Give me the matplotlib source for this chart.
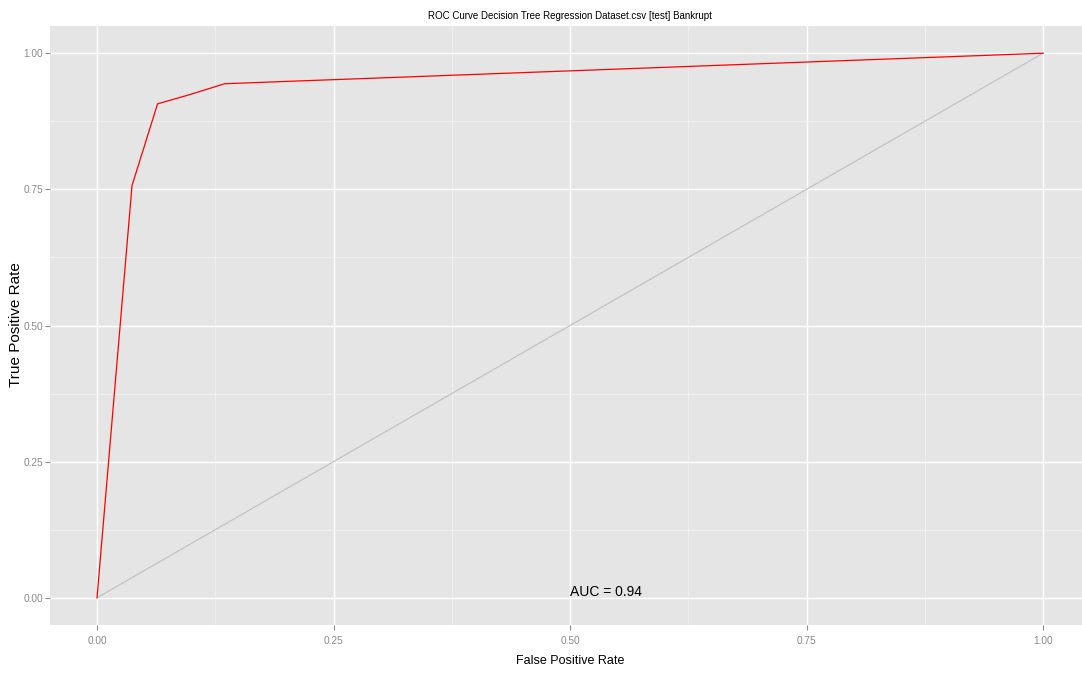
import matplotlib
matplotlib.use('Agg')
import matplotlib.pyplot as plt
from matplotlib.ticker import MultipleLocator

# ROC points
fpr = [0.0, 0.037, 0.064, 0.098, 0.135, 1.0]
tpr = [0.0, 0.757, 0.907, 0.924, 0.944, 1.0]
diag = [0.0, 1.0]
ticks = [0.0, 0.25, 0.5, 0.75, 1.0]
tick_labels = ['0.00', '0.25', '0.50', '0.75', '1.00']
auc_text = 'AUC = 0.94'
title = 'ROC Curve Decision Tree Regression Dataset.csv [test] Bankrupt'

font = ['Liberation Sans', 'DejaVu Sans']

W, H = 1082, 673
fig = plt.figure(figsize=(W / 100, H / 100), dpi=100)
ax = fig.add_axes([50 / W, 48 / H, 1032 / W, 599 / H])
ax.set_facecolor('#E5E5E5')
for s in ax.spines.values():
    s.set_visible(False)

ax.set_xlim(-0.0497, 1.0412)
ax.set_ylim(-0.05, 1.05)

ax.xaxis.set_minor_locator(MultipleLocator(0.125))
ax.yaxis.set_minor_locator(MultipleLocator(0.125))
ax.set_xticks(ticks)
ax.set_xticklabels(tick_labels)
ax.set_yticks(ticks)
ax.set_yticklabels(tick_labels)
ax.grid(which='major', color='white', linewidth=1.0)
ax.grid(which='minor', color='#F2F2F2', linewidth=0.6)
ax.set_axisbelow(True)
ax.tick_params(which='minor', length=0)
ax.tick_params(axis='both', which='major', colors='#8A8A8A', length=3.6, width=0.8)
ax.tick_params(axis='y', pad=1.5)
ax.tick_params(axis='x', pad=4.5)
for lab in ax.get_xticklabels() + ax.get_yticklabels():
    lab.set_family(font)
    lab.set_fontsize(7.3)

ax.plot(diag, diag, color='#BEBEBE', linewidth=0.8)
ax.plot(fpr, tpr, color='red', linewidth=0.9)
ax.text(0.5, 0.01, auc_text, ha='left', va='center', fontsize=10,
        family=font, color='black')

ax.set_xlabel('False Positive Rate', fontsize=9, family=font, color='black', va='center')
ax.xaxis.set_label_coords(0.504, -0.060)
ax.set_ylabel('True Positive Rate', fontsize=11, family=font, color='black', va='center')
ax.yaxis.set_label_coords(-0.033, 0.501)

fig.text(570 / W, 1 - 16 / H, title, ha='center', va='center', fontsize=7, family=font)

fig.savefig('out.png', dpi=100)
